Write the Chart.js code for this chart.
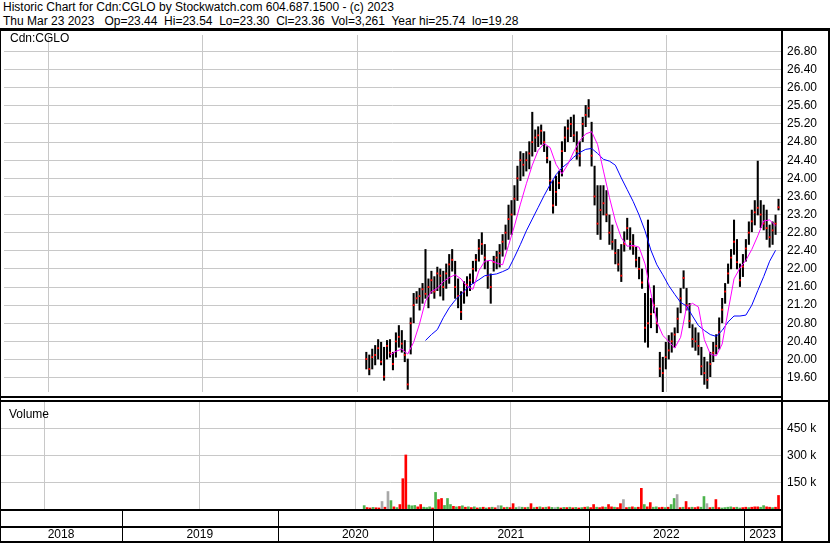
<!DOCTYPE html>
<html>
<head>
<meta charset="utf-8">
<script src="https://cdn.jsdelivr.net/npm/chart.js@4.4.0/dist/chart.umd.min.js"></script>
<style>
  html, body { margin: 0; padding: 0; background: #fff; }
  #wrap { position: relative; width: 830px; height: 543px; overflow: hidden;
          font-family: "Liberation Sans", Arial, sans-serif; color: #000; }
  .hdr { position: absolute; left: 3px; font-size: 12px; line-height: 14px; white-space: pre; }
  .tag { position: absolute; font-size: 12px; line-height: 14px; white-space: pre; }
  .rule { position: absolute; background: #000; }
  #pricePanel { position: absolute; left: 0; top: 31px; width: 830px; height: 365px; }
  #volPanel { position: absolute; left: 0; top: 402px; width: 830px; height: 141px; }
</style>
</head>
<body>
<div id="wrap">
  <div class="hdr" id="hdr1" style="top:0px"></div>
  <div class="hdr" id="hdr2" style="top:14px"></div>
  <div id="pricePanel"><canvas id="chartPrice"></canvas></div>
  <div id="volPanel"><canvas id="chartVol"></canvas></div>
  <div class="rule" style="left:0;top:28px;width:830px;height:3px"></div>
  <div class="rule" style="left:0;top:396px;width:783px;height:2px"></div>
  <div class="rule" style="left:0;top:400px;width:830px;height:2px"></div>
  <div class="rule" style="left:781px;top:28px;width:2px;height:515px"></div>
  <div class="rule" style="left:0;top:28px;width:1px;height:515px"></div>
  <div class="rule" style="left:828px;top:28px;width:2px;height:515px"></div>
  <div class="tag" id="symTag" style="left:10px;top:31px"></div>
  <div class="tag" id="volTag" style="left:9px;top:407px"></div>
</div>
<script>
// ── Header / labels ──
const titleLine = 'Historic Chart for Cdn:CGLO by Stockwatch.com 604.687.1500 - (c) 2023';
const quoteLine = 'Thu Mar 23 2023   Op=23.44  Hi=23.54  Lo=23.30  Cl=23.36  Vol=3,261  Year hi=25.74  lo=19.28';
const symbolLabel = 'Cdn:CGLO';
const volumeLabel = 'Volume';

// ── Axis labels ──
const priceTicks = ['19.60','20.00','20.40','20.80','21.20','21.60','22.00','22.40','22.80',
                    '23.20','23.60','24.00','24.40','24.80','25.20','25.60','26.00','26.40','26.80'];
const volumeTicks = [150, 300, 450];            // thousands
const yearLabels = ['2018', '2019', '2020', '2021', '2022', '2023'];
const yearStarts = [2019, 2020, 2021, 2022, 2023];

// ── Weekly bars, first week ending 2020-07-23, last 2023-03-23 ──
const firstWeek = [2020, 6, 23];   // y, m(0-based), d

const highs = [
  20.16,20.10,20.23,20.31,20.44,20.38,20.27,20.42,20.44,20.16,
  20.59,20.75,20.64,20.42,20.01,20.92,21.46,21.50,21.57,21.68,
  22.43,21.78,21.95,21.83,22.04,22.00,21.95,22.11,22.32,22.43,
  22.17,21.78,21.50,21.72,21.83,21.89,22.17,22.32,22.65,22.80,
  22.54,22.17,21.89,22.28,22.39,22.54,22.76,22.97,23.41,23.51,
  23.84,24.27,24.59,24.55,24.59,24.81,25.46,25.07,25.14,25.18,
  25.03,24.70,24.38,23.95,24.05,24.16,24.81,25.14,25.29,25.35,
  25.40,25.03,24.81,25.35,25.61,25.74,25.24,24.27,23.84,23.84,
  23.84,23.73,23.19,22.97,22.65,22.43,22.54,22.82,23.12,22.91,
  22.76,22.48,22.26,22.00,21.46,23.08,21.35,21.63,21.14,20.16,
  20.05,20.38,20.53,20.59,20.70,21.14,21.57,21.96,21.57,21.24,
  20.77,20.70,20.59,20.27,20.05,19.95,20.16,20.38,20.55,20.92,
  21.35,21.68,22.11,22.43,23.08,22.65,22.11,22.32,22.65,23.04,
  23.30,23.51,24.38,23.51,23.41,23.30,22.97,23.04,23.19,23.54
];
const lows = [
  19.79,19.66,19.79,19.88,20.01,19.88,19.54,20.01,20.05,19.77,
  20.05,20.27,20.16,19.95,19.34,20.12,20.81,21.24,21.09,21.24,
  21.35,21.14,21.46,21.35,21.52,21.40,21.31,21.57,21.68,21.95,
  21.35,21.14,20.88,21.24,21.40,21.52,21.68,21.95,22.17,22.32,
  22.00,21.57,21.24,21.95,22.00,22.04,22.28,22.43,22.65,22.76,
  23.19,23.51,23.95,24.05,24.16,24.21,24.49,24.59,24.70,24.75,
  24.59,24.34,23.73,23.23,23.40,23.77,24.05,24.59,24.81,24.92,
  24.81,24.42,24.27,24.81,25.14,25.35,24.27,23.41,22.76,22.65,
  23.19,23.04,22.54,22.43,22.11,21.95,21.72,22.39,22.65,22.43,
  22.32,22.04,21.78,21.57,20.38,20.27,20.70,21.03,20.59,19.62,
  19.28,19.79,20.01,20.16,20.27,20.59,21.03,21.57,21.09,20.70,
  20.27,20.20,20.10,19.66,19.45,19.36,19.62,19.95,20.12,20.23,
  20.81,21.24,21.68,22.00,22.32,22.00,21.61,21.83,22.17,22.54,
  22.82,22.97,23.19,22.91,22.86,22.65,22.48,22.54,22.76,23.30
];
const closes = [
  20.01,19.79,20.05,20.10,20.25,19.95,19.62,20.30,20.15,19.90,
  20.40,20.50,20.35,20.10,19.45,20.80,21.20,21.35,21.40,21.55,
  21.45,21.60,21.75,21.50,21.90,21.85,21.60,21.90,22.10,22.20,
  21.60,21.40,21.05,21.50,21.65,21.75,22.00,22.20,22.45,22.55,
  22.25,21.85,21.60,22.15,22.25,22.35,22.60,22.80,23.10,23.20,
  23.55,24.00,24.40,24.30,24.40,24.55,24.80,24.90,24.95,25.05,
  24.80,24.45,23.95,23.40,23.70,23.90,24.60,24.90,25.10,25.20,
  24.95,24.60,24.50,25.20,25.40,25.55,24.50,23.60,23.00,23.30,
  23.45,23.20,22.80,22.60,22.35,22.10,21.85,22.55,22.90,22.60,
  22.50,22.20,22.00,21.70,20.70,20.80,21.00,21.20,20.80,19.80,
  19.70,20.05,20.20,20.40,20.55,20.90,21.35,21.80,21.20,20.85,
  20.45,20.40,20.30,19.85,19.70,19.55,19.90,20.15,20.30,20.60,
  21.10,21.50,21.90,22.25,22.60,22.15,21.75,22.05,22.45,22.80,
  23.05,23.25,23.35,23.20,23.00,22.90,22.70,22.85,23.00,23.36
];

// moving averages, read every second week (null = not yet started)
const maFast = [
  null,null,null,null,20.10,20.18,20.23,20.12,20.38,20.79,
  21.29,21.50,21.57,21.72,21.81,21.87,21.78,21.61,21.55,21.96,
  22.17,22.19,22.13,22.09,22.52,22.95,23.43,23.88,24.29,24.62,
  24.77,24.68,24.31,24.10,24.31,24.59,24.83,24.98,25.03,24.75,
  24.16,23.58,23.06,22.69,22.50,22.52,22.48,22.11,21.46,20.83,
  20.53,20.40,20.25,20.49,21.16,21.24,21.16,20.44,20.12,20.08,
  20.34,21.07,21.78,22.02,22.19,22.43,22.73,23.06,23.08,22.95
];
const maSlow = [
  null,null,null,null,null,null,null,null,null,null,
  20.42,20.55,20.66,20.92,21.14,21.31,21.44,21.57,21.68,21.76,
  21.85,21.87,21.89,21.94,22.00,22.26,22.54,22.84,23.10,23.36,
  23.62,23.86,24.08,24.23,24.34,24.47,24.57,24.64,24.66,24.55,
  24.42,24.38,24.29,24.01,23.75,23.49,23.19,22.84,22.41,22.09,
  21.87,21.63,21.44,21.26,21.18,20.96,20.75,20.64,20.55,20.51,
  20.64,20.83,20.96,20.96,20.98,21.20,21.52,21.83,22.17,22.41
];

// volume in thousands, G = up, R = down, N = unchanged
const volumes = [
  19,8,6,9,7,6,42,10,98,47,
  12,8,25,170,303,22,18,20,12,25,
  10,8,12,6,93,53,59,20,59,25,
  15,12,14,18,10,12,8,12,6,8,
  10,6,8,10,7,19,18,8,10,8,
  30,8,12,10,8,10,30,8,10,12,
  8,10,12,9,8,10,6,9,8,10,
  7,9,6,8,10,12,8,25,10,8,
  12,10,25,12,10,8,30,53,8,10,
  12,8,10,116,25,12,36,10,12,8,
  10,8,10,25,59,81,8,10,42,8,
  10,8,12,10,70,30,8,10,53,8,
  6,8,10,12,8,10,6,8,10,8,
  10,12,12,10,19,12,10,8,10,76
];
const volumeMoves =
  'GRRGRRNRNG' + 'RGRRRGGGRR' + 'GGGRGRRGGG' + 'RGRGRGRGRG' + 'RGRGRNGRGR' +
  'RGNGRGRGRG' + 'RGRGNGRGRG' + 'RGRGRGRRGR' + 'RGRRGRRNRG' + 'RGRRGRRGGR' +
  'RGRGGNRGRR' + 'GRRGGNRGRR' + 'GGGGRGGRRG' + 'RRRGGRRGRR';

// ── helpers ──
function decimalYear(d) {
  const y = d.getUTCFullYear();
  const a = Date.UTC(y, 0, 1), b = Date.UTC(y + 1, 0, 1);
  return y + (d.getTime() - a) / (b - a);
}
const weekX = highs.map((_, i) =>
  decimalYear(new Date(Date.UTC(firstWeek[0], firstWeek[1], firstWeek[2] + 7 * i))));

const X_MIN = 2018.2154, X_MAX = 2023.2379;
const FONT = { family: '"Liberation Sans", Arial, sans-serif', size: 12 };
const GRID = '#c8c8c8';
const moveColor = { G: '#4cb34c', R: '#ff0000', N: '#a8a8a8' };

Chart.defaults.font = FONT;
Chart.defaults.color = '#000';

document.getElementById('hdr1').textContent = titleLine;
document.getElementById('hdr2').textContent = quoteLine;
document.getElementById('symTag').textContent = symbolLabel;
document.getElementById('volTag').textContent = volumeLabel;

function xScale() {
  return {
    type: 'linear', min: X_MIN, max: X_MAX, offset: false,
    afterBuildTicks: s => { s.ticks = yearStarts.map(v => ({ value: v })); },
    ticks: { display: false },
    grid: { color: GRID, drawTicks: false },
    border: { display: false }
  };
}
function rightAxis(extra) {
  return Object.assign({
    position: 'right',
    grid: { color: GRID, drawTicks: false },
    border: { display: false },
    afterFit: s => { s.width = 49; s.paddingTop = 0; s.paddingBottom = 0; }
  }, extra);
}

// ── Price chart ──
const rangeBars = weekX.map((x, i) => ({ x, y: [lows[i], highs[i]] }));
const closeMarks = weekX.map((x, i) => ({ x, y: closes[i] }));
const fastLine = maFast.map((v, k) => ({ x: weekX[2 * k], y: v }));
const slowLine = maSlow.map((v, k) => ({ x: weekX[2 * k], y: v }));

new Chart(document.getElementById('chartPrice'), {
  type: 'bar',
  data: {
    datasets: [
      { type: 'line', data: fastLine, borderColor: '#ff00ff', borderWidth: 1,
        pointRadius: 0, tension: 0, spanGaps: false, order: 0 },
      { type: 'line', data: slowLine, borderColor: '#0000ff', borderWidth: 1,
        pointRadius: 0, tension: 0, spanGaps: false, order: 0 },
      { type: 'line', data: closeMarks, showLine: false, pointStyle: 'rect',
        pointRadius: 1.3, pointBackgroundColor: '#ff0000', pointBorderWidth: 0, order: 1 },
      { type: 'bar', data: rangeBars, backgroundColor: '#000', barThickness: 1.4,
        grouped: false, order: 2 }
    ]
  },
  options: {
    responsive: true, maintainAspectRatio: false, animation: false,
    layout: { padding: 0 },
    plugins: { legend: { display: false }, tooltip: { enabled: false } },
    scales: {
      x: xScale(),
      y: rightAxis({
        min: 19.282, max: 27.165,
        afterBuildTicks: s => { s.ticks = priceTicks.map(t => ({ value: parseFloat(t) })); },
        ticks: { padding: 6, callback: v => v.toFixed(2) }
      })
    }
  }
});

// ── Volume chart + year strip ──
const yearStrip = {
  id: 'yearStrip',
  afterDraw(chart) {
    const { ctx, chartArea } = chart;
    const x = chart.scales.x;
    const top = chartArea.bottom;
    ctx.save();
    ctx.fillStyle = '#000';
    ctx.fillRect(0, top, 783, 2);
    ctx.fillRect(0, top + 17, 783, 2);
    ctx.fillRect(0, chart.height - 2, 830, 2);
    yearStarts.forEach(v => {
      ctx.fillRect(Math.round(x.getPixelForValue(v)), top, 1, chart.height - top);
    });
    const edges = [X_MIN, ...yearStarts, X_MAX];
    ctx.font = '12px "Liberation Sans", Arial, sans-serif';
    ctx.textAlign = 'center';
    ctx.textBaseline = 'middle';
    yearLabels.forEach((t, i) => {
      const c = (x.getPixelForValue(edges[i]) + x.getPixelForValue(edges[i + 1])) / 2;
      ctx.fillText(t, c, top + 26);
    });
    ctx.restore();
  }
};

new Chart(document.getElementById('chartVol'), {
  type: 'bar',
  data: {
    datasets: [{
      data: weekX.map((x, i) => ({ x, y: volumes[i] * 1000 })),
      backgroundColor: volumes.map((_, i) => moveColor[volumeMoves[i]]),
      barThickness: 2
    }]
  },
  options: {
    responsive: true, maintainAspectRatio: false, animation: false,
    layout: { padding: { bottom: 34 } },
    plugins: { legend: { display: false }, tooltip: { enabled: false } },
    scales: {
      x: xScale(),
      y: rightAxis({
        min: 0, max: 600000,
        afterBuildTicks: s => { s.ticks = volumeTicks.map(v => ({ value: v * 1000 })); },
        ticks: { padding: 6, callback: v => (v / 1000) + ' k' }
      })
    }
  },
  plugins: [yearStrip]
});
</script>
</body>
</html>
